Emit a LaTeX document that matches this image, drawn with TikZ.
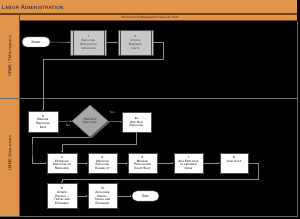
\documentclass[tikz,border=0pt]{standalone}
\usepackage{fontspec}
\setmainfont{TeX Gyre Heros}
\usetikzlibrary{shapes.geometric,shapes.misc,shadows,arrows.meta}
\definecolor{orng}{HTML}{E0954A}
\definecolor{brn}{HTML}{6E4318}
\definecolor{lnc}{HTML}{8A8A8A}
\definecolor{frm}{HTML}{6A6A6A}
\begin{document}
\begin{tikzpicture}[x=1pt,y=-1pt,
  box/.style={draw=black!70, fill=white, line width=0.4pt, inner sep=0pt, align=center,
    font=\fontsize{3}{3.7}\selectfont\scshape, text=black},
  gbox/.style={box, fill=black!22, text=black!80, minimum width=36pt, minimum height=25pt},
  wbox/.style={box, minimum width=29pt, minimum height=20pt},
  term/.style={rounded rectangle, draw=black!60, fill=white, inner sep=0pt,
    minimum width=28pt, minimum height=10pt, font=\fontsize{3.5}{4}\selectfont\scshape},
  conn/.style={draw=lnc, line width=0.5pt, -{Stealth[length=2pt,width=1.8pt]}},
  lanelbl/.style={rotate=90, font=\fontsize{4}{4.6}\selectfont\scshape, text=black!90},
  lbl/.style={font=\fontsize{3}{3.6}\selectfont\scshape, text=black!25, inner sep=0pt}]
\useasboundingbox (0,0) rectangle (300,219);
\fill[black] (0,0) rectangle (300,219);
% title bar and bands
\fill[orng] (0,0) rectangle (297,13.5);
\fill[brn] (0,13.5) rectangle (297,15);
\fill[orng] (20,15) rectangle (297,20);
\fill[brn] (20,20) rectangle (297,21);
\fill[orng] (0,15) rectangle (19.5,216);
\draw[brn, line width=0.6pt] (19.5,15) -- (19.5,216);
\draw[frm, line width=0.6pt] (0,98) -- (297,98);
\draw[frm, line width=0.8pt] (297,21) -- (297,216.5) -- (0,216.5);
\node[anchor=west, inner sep=0pt, font=\fontsize{6}{7}\selectfont\scshape, text=black!85] (title) at (1.5,7) {Labor Administration};
\node[inner sep=0pt, font=\fontsize{3}{3.6}\selectfont\scshape, text=black!85] (band) at (150,17.5) {Maintenance Management Release Date};
\node[lanelbl] (lane1) at (10,56) {HRMS / TM Interface};
\node[lanelbl] (lane2) at (10,153) {LMMS Operations};
% nodes
\node[term] (start) at (36,42) {Start};
\node[gbox] (b1) at (88.5,42.5) {1\\Employee\\Application\\Interface};
\node[gbox, minimum width=35pt] (b2) at (135.5,42.5) {2\\Update\\Business\\Units};
\foreach \n in {b1,b2}{
  \draw[black!70, line width=0.4pt] ([xshift=2.5pt]\n.north west) -- ([xshift=2.5pt]\n.south west);
  \draw[black!70, line width=0.4pt] ([xshift=-2.5pt]\n.north east) -- ([xshift=-2.5pt]\n.south east);
}
\node[wbox, minimum width=30pt, minimum height=21pt] (b3) at (43,121.5) {3\\Manage\\Employee\\Data};
\node[diamond, draw=black!60, fill=black!35, inner sep=0pt, minimum width=36pt, minimum height=32pt,
  align=center, font=\fontsize{3}{3.7}\selectfont\scshape, text=black!85,
  drop shadow={shadow xshift=1.5pt, shadow yshift=-1.5pt, fill=black!65, opacity=1}] (dia) at (90,121) {New Non\\Employee};
\node[wbox] (b3a) at (136.5,122) {3a\\Add Non\\Employee};
\node[wbox, minimum width=30pt] (b4) at (62,163) {4\\Establish\\Employee as\\Resource};
\node[wbox] (b5) at (102.5,163) {5\\Maintain\\Employee\\Eligibility};
\node[wbox] (b6) at (142.5,163) {6\\Manage\\Profile and\\Craft/Shop};
\node[wbox] (b7) at (188.5,163) {7\\Add Employee\\to assigned\\Crew};
\node[wbox, minimum width=28pt] (b8) at (234,163) {8\\View Shop\\\mbox{}\\\mbox{}};
\node[wbox, minimum width=30pt, minimum height=25pt] (b9) at (62,196) {9\\Update\\Profile --\\Travel and\\Expenses};
\node[wbox, minimum height=25pt] (b10) at (102.5,196) {10\\Authorize\\Users --\\Travel and\\Expenses};
\node[term, minimum width=27pt] (end) at (145.5,196) {End};
\node[lbl] (yes) at (112,112) {Yes};
\node[lbl] (no) at (68,125.5) {No};
% connectors
\draw[conn] (start) -- (b1);
\draw[conn] (b1) -- (b2);
\draw[conn] (b2.east) -- ++(10,0) |- (b3.north |- 0,59) -- (b3.north);
\draw[conn] (b3) -- (dia);
\draw[conn] (dia) -- (b3a);
\draw[conn] (dia.south) -| (32,150) |- (b4.west);
\draw[conn] (b3a.south) |- (b4.north |- 0,144) -- (b4.north);
\draw[conn] (b4) -- (b5);
\draw[conn] (b5) -- (b6);
\draw[conn] (b6) -- (b7);
\draw[conn] (b7) -- (b8);
\draw[conn] (b8.east) -- ++(10,0) |- (b9.north |- 0,179) -- (b9.north);
\draw[conn] (b9) -- (b10);
\draw[conn] (b10) -- (end);
\end{tikzpicture}
\end{document}
